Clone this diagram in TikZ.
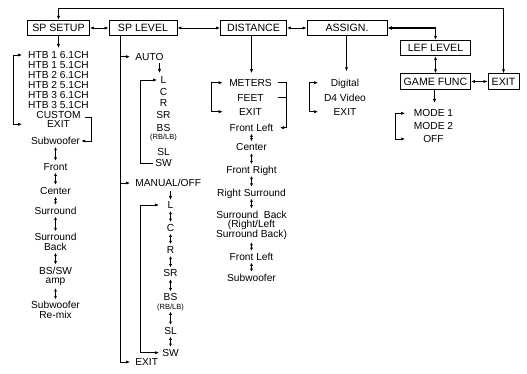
\documentclass[tikz,border=0pt]{standalone}
\usepackage{fontspec}
\setmainfont{Liberation Sans}
\usetikzlibrary{arrows.meta}
\newcommand\lstfont{\fontsize{10.2}{10}\selectfont}
\newcommand\boxfont{\fontsize{10.6}{12}\selectfont}
\newcommand\smlfont{\fontsize{7.5}{8}\selectfont}
\tikzset{
  itm/.style={inner sep=1pt, font=\lstfont, text height=7.3pt, text depth=0pt},
  sml/.style={inner sep=1pt, font=\smlfont, text height=5.4pt, text depth=0pt},
  multi/.style={inner sep=1pt, font=\fontsize{10.2}{9.5}\selectfont, align=center},
  box/.style={draw, line width=0.9pt, inner sep=0pt, minimum height=15.5pt, font=\boxfont, text height=7.6pt, text depth=0pt},
  arr/.style={-{Latex[length=4pt,width=3.2pt]}},
  tw/.style={{Latex[length=4pt,width=3.2pt]}-{Latex[length=4pt,width=3.2pt]}},
  dbl/.style={{Latex[length=3.2pt,width=3pt]}-{Latex[length=3.2pt,width=3pt]}, shorten <=1pt, shorten >=1pt}
}
\begin{document}
\begin{tikzpicture}[x=1pt,y=-1pt,line width=0.7pt]
\useasboundingbox[fill=white] (0,0) rectangle (527,374);

% ---- top row boxes
\node[box, minimum width=62pt] (spsetup) at (58.5,28) {SP SETUP};
\node[box, minimum width=68pt] (splevel) at (143,28) {SP LEVEL};
\node[box, minimum width=66pt] (distance) at (253.5,28) {DISTANCE};
\node[box, minimum width=80pt] (assign) at (347,28) {ASSIGN.};
\node[box, minimum width=70pt] (lef) at (435.5,48) {LEF LEVEL};
\node[box, minimum width=70pt] (game) at (435.5,81.5) {GAME FUNC};
\node[box, minimum width=31pt] (gexit) at (503.5,81.5) {EXIT};

\coordinate (ty) at (300,8.5);
\draw[tw] (spsetup.north) |- (ty) -| (gexit.north);
\draw[tw] (spsetup) -- (splevel);
\draw[tw] (splevel) -- (distance);
\draw[tw] (distance) -- (assign);
\draw[-{Latex[length=4.5pt,width=4pt]}, line width=1.5pt] (lef.north |- assign.east) -- (assign.east);
\draw[arr] (lef.north |- assign.east) -- (lef.north);
\draw[tw] (lef) -- (game);
\draw[tw] (game) -- (gexit);

% ---- SP SETUP column
\node[itm] (htb1) at (58.5,55) {HTB 1 6.1CH};
\node[itm] (htb2) at (58.5,65) {HTB 1 5.1CH};
\node[itm] (htb3) at (58.5,75) {HTB 2 6.1CH};
\node[itm] (htb4) at (58.5,85) {HTB 2 5.1CH};
\node[itm] (htb5) at (58.5,94.6) {HTB 3 6.1CH};
\node[itm] (htb6) at (58.5,104.5) {HTB 3 5.1CH};
\node[itm] (custom) at (58.5,114.4) {CUSTOM};
\node[itm] (sexit) at (58.5,124.3) {EXIT};
\draw[arr, shorten >=2pt] (htb1.north |- spsetup.south) -- (htb1.north);
\coordinate (sbx) at (13,0);
\coordinate (sbt) at (22,0);
\draw[tw] (sbt |- htb1) -- (sbx |- htb1) -- (sbx |- sexit) -- (sbt |- sexit);

\node[itm] (sub1) at (55.5,141) {Subwoofer};
\node[itm] (front) at (55.5,166.7) {Front};
\node[itm] (cent) at (55.5,190.7) {Center};
\node[itm] (surr) at (55.5,210.7) {Surround};
\node[multi] (sback) at (55.5,242) {Surround\\Back};
\node[multi] (bssw) at (55.5,276.3) {BS/SW\\amp};
\node[multi] (remix) at (55.5,310) {Subwoofer\\Re-mix};
\coordinate (cst) at ([xshift=3.5pt,yshift=-2.5pt]custom.east);
\coordinate (cbx) at (91,0);
\draw[arr] (cst) -- (cst -| cbx) -- (cbx |- sub1) -- (sub1.east);
\draw[dbl] (sub1) -- (front);
\draw[dbl] (front) -- (cent);
\draw[dbl] (cent) -- (surr);
\draw[dbl] (surr) -- (sback);
\draw[dbl] (sback) -- (bssw);
\draw[dbl] (bssw) -- (remix);

% ---- SP LEVEL column
\coordinate (vx) at (120,0);
\node[itm, anchor=west] (auto) at (134,56.7) {AUTO};
\node[itm, anchor=west] (manual) at (134,183) {MANUAL/OFF};
\node[itm, anchor=west] (lexit) at (134,362) {EXIT};
\draw[arr, shorten >=4pt] (vx |- splevel.south) -- (vx |- lexit) -- (lexit.west);
\draw[arr, shorten >=4pt] (vx |- auto) -- (auto.west);
\draw[arr, shorten >=4pt] (vx |- manual) -- (manual.west);

\node[itm] (aL) at (163.5,80) {L};
\node[itm] (aC) at (163.5,91.7) {C};
\node[itm] (aR) at (163.5,103.3) {R};
\node[itm] (aSR) at (163.5,115) {SR};
\node[itm] (aBS) at (163.5,127.7) {BS};
\node[sml] (aRB) at (163.5,137.3) {(RB/LB)};
\node[itm] (aSL) at (163.5,151.7) {SL};
\node[itm] (aSW) at (163.5,163.3) {SW};
\coordinate (adx) at (159.5,0);
\draw[arr, shorten <=1.5pt, shorten >=2pt] (adx |- auto.south) -- (adx |- aL.north);
\coordinate (abx) at (140,0);
\coordinate (abt) at (157,0);
\coordinate (abe) at (153,0);
\draw[arr] (abe |- aSW) -- (abx |- aSW) -- (abx |- aL) -- (abt |- aL);

\node[itm] (mL) at (170.5,205) {L};
\node[itm] (mC) at (170.5,227.7) {C};
\node[itm] (mR) at (170.5,250) {R};
\node[itm] (mSR) at (170.5,273.3) {SR};
\node[itm] (mBS) at (170.5,297.3) {BS};
\node[sml] (mRB) at (170.5,306.7) {(RB/LB)};
\node[itm] (mSL) at (170.5,330.7) {SL};
\node[itm] (mSW) at (170.5,352.7) {SW};
\draw[arr, shorten <=3pt] (mL.north |- manual.south) -- (mL.north);
\draw[dbl] (mL) -- (mC);
\draw[dbl] (mC) -- (mR);
\draw[dbl] (mR) -- (mSR);
\draw[dbl] (mSR) -- (mBS);
\draw[dbl] (mRB) -- (mSL);
\draw[dbl] (mSL) -- (mSW);
\coordinate (mbx) at (140,0);
\coordinate (mbt) at (159,0);
\draw[tw] (mbt |- mL) -- (mbx |- mL) -- (mbx |- mSW) -- (mbt |- mSW);

% ---- DISTANCE column
\node[itm] (meters) at (250.5,82.7) {METERS};
\node[itm] (feet) at (250.5,97.7) {FEET};
\node[itm] (dexit) at (250.5,111.7) {EXIT};
\coordinate (dcol) at (251.5,0);
\draw[arr, shorten >=4.5pt] (dcol |- distance.south) -- (dcol |- meters.north);
\coordinate (dlx) at (211.7,0);
\coordinate (dlt) at (222.7,0);
\draw[tw] (dlt |- meters) -- (dlx |- meters) -- (dlx |- dexit) -- (dlt |- dexit);

\node[itm] (dfl) at (251.5,127.7) {Front Left};
\node[itm] (dc) at (251.5,147.3) {Center};
\node[itm] (dfr) at (251.5,170) {Front Right};
\node[itm] (drsur) at (251.5,192.7) {Right Surround};
\node[multi, font=\fontsize{10.2}{9.85}\selectfont] (dsb) at (251.5,225.3) {Surround\ \ Back\\(Right/Left\\Surround Back)};
\node[itm] (dfl2) at (251.5,256.7) {Front Left};
\node[itm] (dsw) at (251.5,277.7) {Subwoofer};
\coordinate (drs) at (277.5,0);
\coordinate (drx) at (286,0);
\coordinate (drt) at (280,0);
\draw[arr] (drs |- meters) -- (drx |- meters) -- (drx |- dfl) -- (drt |- dfl);
\draw (drs |- feet) -- (drx |- feet);
\draw[dbl] (dfl) -- (dc);
\draw[dbl] (dc) -- (dfr);
\draw[dbl] (dfr) -- (drsur);
\draw[dbl] (drsur) -- (dsb);
\draw[dbl] (dsb) -- (dfl2);
\draw[dbl] (dfl2) -- (dsw);

% ---- ASSIGN column
\node[itm] (digital) at (345,82.7) {Digital};
\node[itm] (d4) at (345,98.3) {D4 Video};
\node[itm] (aexit) at (345,111.7) {EXIT};
\coordinate (acol) at (346.5,0);
\draw[arr, shorten >=6.4pt] (acol |- assign.south) -- (acol |- digital.north);
\coordinate (alx) at (309.3,0);
\coordinate (alt) at (318,0);
\draw[tw] (alt |- digital) -- (alx |- digital) -- (alx |- aexit) -- (alt |- aexit);

% ---- GAME FUNC column
\node[itm] (mode1) at (433.5,113.3) {MODE 1};
\node[itm] (mode2) at (433.5,126) {MODE 2};
\node[itm] (moff) at (433.5,139) {OFF};
\coordinate (gcol) at (434.5,0);
\draw[arr, shorten >=5.4pt] (gcol |- game.south) -- (gcol |- mode1.north);
\coordinate (gbx) at (395,0);
\coordinate (gbt) at (405,0);
\draw[tw] (gbt |- mode1) -- (gbx |- mode1) -- (gbx |- moff) -- (gbt |- moff);
\end{tikzpicture}
\end{document}
